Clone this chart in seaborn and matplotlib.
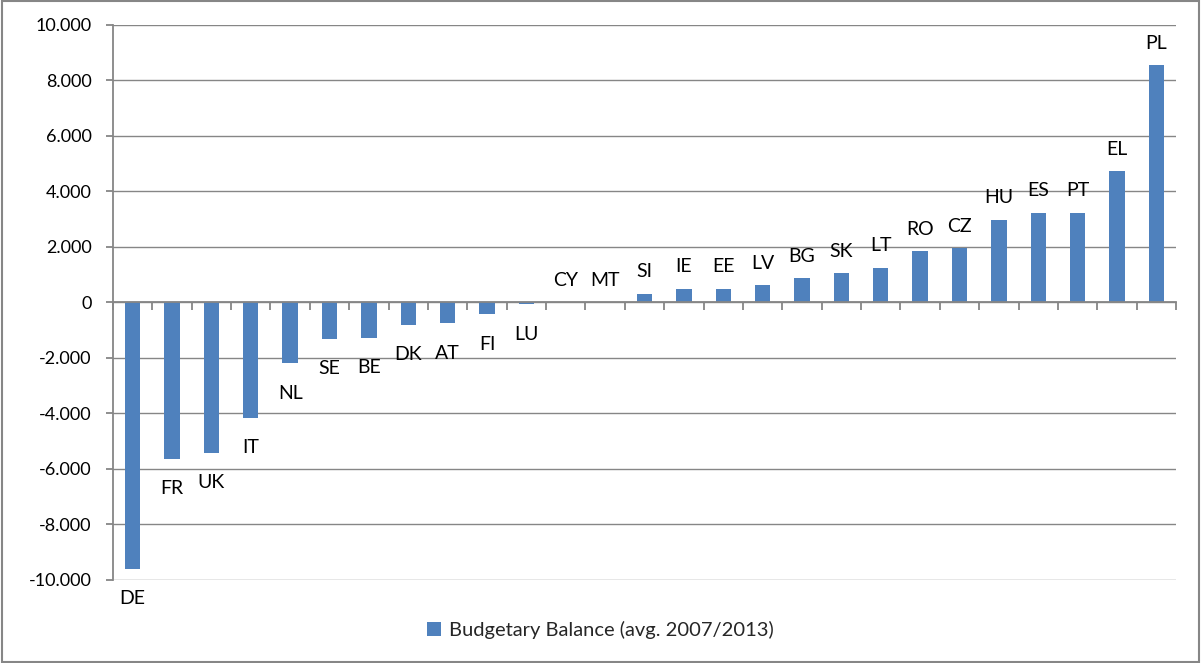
import numpy as np
import pandas as pd
import matplotlib
matplotlib.use("Agg")
import matplotlib.pyplot as plt
from matplotlib.patches import Patch, Rectangle
from matplotlib.ticker import FuncFormatter
import seaborn as sns

# Average budgetary balance per member state, 2007/2013
countries = ["DE", "FR", "UK", "IT", "NL", "SE", "BE", "DK", "AT", "FI", "LU",
             "CY", "MT", "SI", "IE", "EE", "LV", "BG", "SK", "LT", "RO", "CZ",
             "HU", "ES", "PT", "EL", "PL"]
balance = [-9600, -5640, -5420, -4160, -2200, -1320, -1280, -810, -760, -440, -70,
           0, 0, 300, 490, 490, 620, 860, 1050, 1240, 1830, 1950,
           2970, 3220, 3220, 4720, 8540]
series_name = "Budgetary Balance (avg. 2007/2013)"
y_ticks = [-10000, -8000, -6000, -4000, -2000, 0, 2000, 4000, 6000, 8000, 10000]

BAR = "#4F81BD"
GREY = "#868686"

sns.set_theme(style="white")
plt.rcParams["font.family"] = ["Lato", "DejaVu Sans"]

df = pd.DataFrame({"country": countries, "balance": balance})

fig = plt.figure(figsize=(12.01, 6.63), dpi=100)
ax = fig.add_axes([113 / 1201, 1 - 580 / 663, (1176 - 113) / 1201, (580 - 24.5) / 663])

sns.barplot(data=df, x="country", y="balance", color=BAR, width=0.39,
            linewidth=0, saturation=1, ax=ax)

n = len(countries)
ax.set_xlim(-0.5, n - 0.5)
ax.set_ylim(y_ticks[0], y_ticks[-1])
ax.set_yticks(y_ticks)
ax.yaxis.set_major_formatter(
    FuncFormatter(lambda v, _: f"{int(v):,}".replace(",", ".")))
ax.set_xlabel("")
ax.set_ylabel("")

# Horizontal gridlines
ax.yaxis.grid(True, color=GREY, linewidth=1.0)
ax.set_axisbelow(True)

# Category axis sits on the zero line, with tick marks between categories
for side in ("top", "right"):
    ax.spines[side].set_visible(False)
ax.spines["bottom"].set_position(("data", 0))
ax.spines["bottom"].set_color(GREY)
ax.spines["bottom"].set_linewidth(1.3)
ax.spines["left"].set_color(GREY)
ax.spines["left"].set_linewidth(1.3)
ax.set_xticks(np.arange(-0.5, n, 1.0))
ax.set_xticklabels([])
ax.tick_params(axis="x", which="major", direction="out", length=5.5,
               width=1.3, color=GREY, bottom=True)
ax.tick_params(axis="y", which="major", direction="out", length=5,
               width=1.3, color=GREY, left=True, pad=10.5,
               labelsize=13, labelcolor="#000000")

# Country codes at the end of each bar
for i, (code, val) in enumerate(zip(countries, balance)):
    off = 15.8 if val >= 0 else -21.5
    ax.annotate(code, xy=(i, val), xytext=(0, off), textcoords="offset points",
                ha="center", va="center", fontsize=14, color="#000000")

handle = Patch(facecolor=BAR, edgecolor="none")
fig.legend([handle], [series_name], loc="center",
           bbox_to_anchor=(0.5, 1 - 630 / 663), frameon=False,
           fontsize=14.5, handlelength=0.7, handleheight=0.7,
           handletextpad=0.4)

# Chart frame
fig.patches.append(Rectangle((0.002, 0.002), 0.996, 0.996, transform=fig.transFigure,
                             fill=False, edgecolor=GREY, linewidth=1.5))

fig.savefig("out.png", dpi=100)
